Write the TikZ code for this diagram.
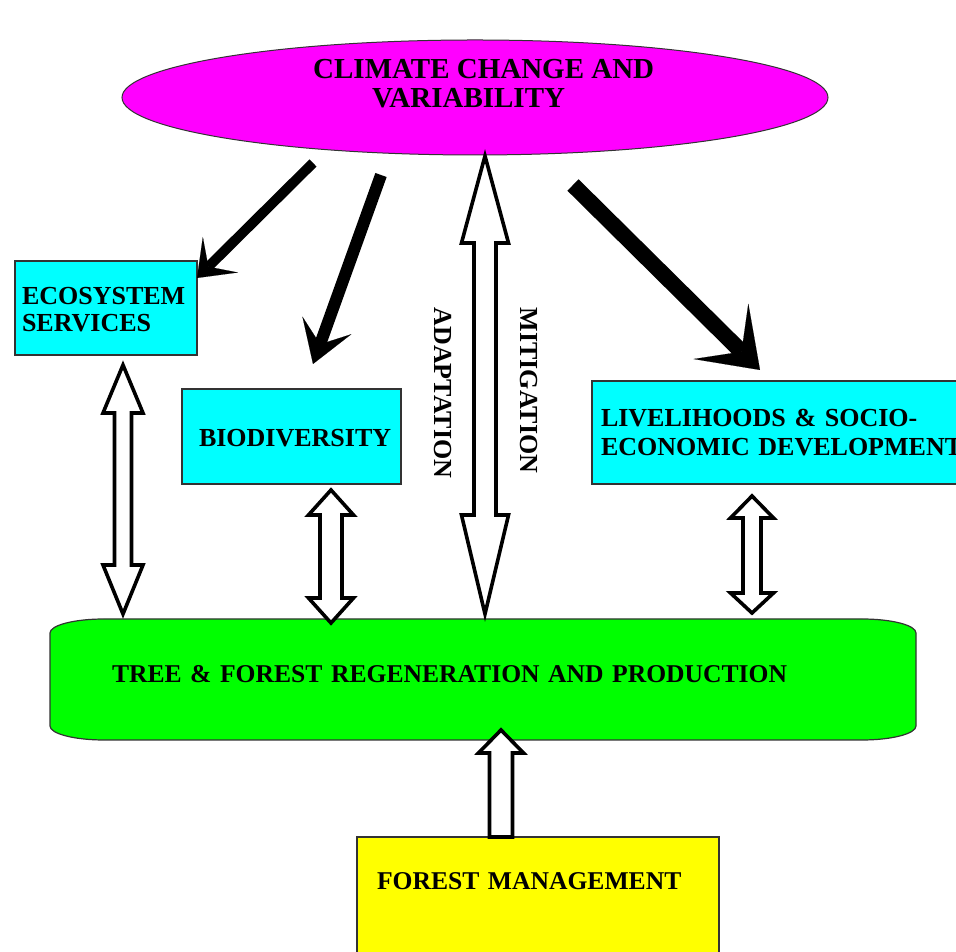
\documentclass[tikz,border=0pt]{standalone}
\usepackage{fontspec}
\setmainfont{Liberation Serif}
\usetikzlibrary{arrows.meta,shapes.geometric,backgrounds,calc}
\definecolor{cmag}{HTML}{FF00FF}
\definecolor{ccyan}{HTML}{00FFFF}
\definecolor{cgreen}{HTML}{00FF00}
\definecolor{cyel}{HTML}{FFFF00}
\definecolor{cedge}{HTML}{333333}
\newcommand{\dblarrow}[6]{%
  \draw[hollow] let \p1=(#1), \p2=(#2) in
  (\x1,\y1) -- (\x1+#4,\y1-#5) -- (\x1+#3,\y1-#5) -- (\x2+#3,\y2+#6) -- (\x2+#4,\y2+#6) --
  (\x2,\y2) -- (\x2-#4,\y2+#6) -- (\x2-#3,\y2+#6) -- (\x1-#3,\y1-#5) -- (\x1-#4,\y1-#5) -- cycle;}
\begin{document}
\begin{tikzpicture}[x=1pt,y=1pt,
  hollow/.style={draw=black, line width=3.6pt, fill=white, line join=miter},
  bolt/.style={draw=black, line cap=butt},
  box/.style={draw=cedge, line width=1.2pt, fill=ccyan, outer sep=0pt, inner ysep=0pt,
    align=left, anchor=north west, font=\fontsize{26}{27}\selectfont\bfseries},
  vlabel/.style={rotate=-90, inner sep=0pt, font=\fontsize{26}{27}\selectfont\bfseries}]
\useasboundingbox (0,0) rectangle (956,952);

% climate ellipse
\node[ellipse, draw=cedge, line width=1pt, fill=cmag, minimum width=706pt,
  minimum height=115pt, inner sep=0pt] (clim) at (475,854.5) {};
\node[anchor=north west, inner sep=0pt, align=left,
  font=\fontsize{29}{29.5}\selectfont\bfseries] (climtext) at (313,893)
  {CLIMATE CHANGE AND\\\hspace*{59pt}VARIABILITY};

% boxes
\node[box, minimum height=94pt, text width=168pt, inner xsep=7pt] (eco) at (15,691)
  {\rule{0pt}{21pt}ECOSYSTEM\\SERVICES};
\node[box, text width=185pt, inner xsep=17pt, text height=57.5pt, text depth=37.5pt]
  (bio) at (182,563) {BIODIVERSITY};
\node[box, minimum height=103pt, text width=400pt, inner xsep=9pt,
  font=\fontsize{26}{28.4}\selectfont\bfseries] (live) at (592,571)
  {LIVELIHOODS \& SOCIO-\\ECONOMIC DEVELOPMENT};
\node[anchor=north west, outer sep=0pt, inner ysep=0pt, inner xsep=62pt,
  text width=742pt, align=left, text height=64pt, text depth=57pt,
  font=\fontsize{25.6}{27}\selectfont\bfseries] (tree) at (50,333)
  {TREE \& FOREST REGENERATION AND PRODUCTION};
\begin{scope}[on background layer]
\path[draw=cedge, line width=1.2pt, fill=cgreen]
  ([xshift=54pt]tree.north west) -- ([xshift=-54pt]tree.north east)
  arc[start angle=90, end angle=0, x radius=54pt, y radius=14pt]
  -- ([yshift=14pt]tree.south east)
  arc[start angle=0, end angle=-90, x radius=54pt, y radius=14pt]
  -- ([xshift=54pt]tree.south west)
  arc[start angle=270, end angle=180, x radius=54pt, y radius=14pt]
  -- ([yshift=-14pt]tree.north west)
  arc[start angle=180, end angle=90, x radius=54pt, y radius=14pt] -- cycle;
\end{scope}
\node[box, fill=cyel, text width=322pt, inner xsep=20pt, text height=53pt,
  text depth=120pt, font=\fontsize{25.6}{27}\selectfont\bfseries] (fm) at (357,115)
  {FOREST MANAGEMENT};

% black arrows
\coordinate (a1s) at (313,789);
\coordinate (a2s) at (381,777);
\coordinate (a3s) at (573,767);
\draw[bolt, line width=10pt,
  -{Stealth[length=33pt, width=50pt, inset=17pt, line width=0.1pt]}]
  (a1s) -- ($(eco.north east)+(0,-17)$);
\draw[bolt, line width=12pt,
  -{Stealth[length=41pt, width=52pt, inset=20pt, line width=0.1pt]}]
  (a2s) -- ($(bio.north west)+(131,25)$);
\draw[bolt, line width=16pt,
  -{Stealth[length=55pt, width=78pt, inset=29pt, line width=0.1pt]}]
  (a3s) -- ($(live.north west)+(168,11)$);

% hollow double arrows
\coordinate (h1t) at (123,587); \coordinate (h1b) at (123,338);
\coordinate (h2t) at (331,462); \coordinate (h2b) at (331,329);
\coordinate (h3t) at (485,796); \coordinate (h3b) at (485,338);
\coordinate (h4t) at (752,456); \coordinate (h4b) at (752,339);
\dblarrow{h1t}{h1b}{8.5pt}{20pt}{48pt}{49pt}
\dblarrow{h2t}{h2b}{11pt}{22.5pt}{25pt}{25pt}
\dblarrow{h3t}{h3b}{11pt}{23.5pt}{87pt}{99pt}
\dblarrow{h4t}{h4b}{9pt}{21.5pt}{22pt}{20pt}

% forest management arrow
\coordinate (h5t) at (501,222);
\draw[hollow] let \p1=(h5t), \p2=(fm.north -| h5t) in
  (\x1,\y1) -- (\x1+22.5pt,\y1-23pt) -- (\x1+11.5pt,\y1-23pt) -- (\x2+11.5pt,\y2) --
  (\x2-11.5pt,\y2) -- (\x1-11.5pt,\y1-23pt) -- (\x1-22.5pt,\y1-23pt) -- cycle;

% labels
\node[vlabel] (adapt) at (442.5,559) {ADAPTATION};
\node[vlabel] (mitig) at (529,561.5) {MITIGATION};
\end{tikzpicture}
\end{document}
